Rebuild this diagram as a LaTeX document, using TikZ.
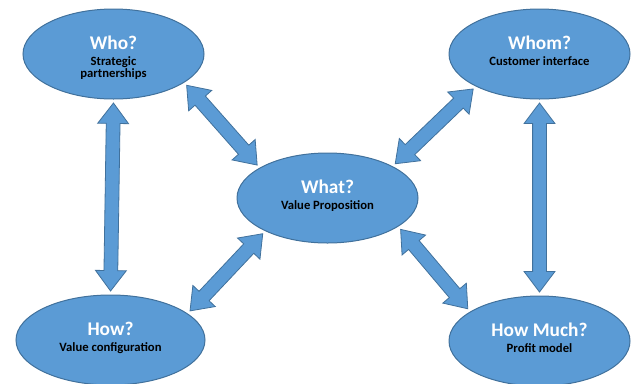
\documentclass[tikz,border=0pt]{standalone}
\usepackage{fontspec}
\setmainfont{Carlito}
\usetikzlibrary{shapes.geometric,shapes.arrows,positioning,calc}

\definecolor{ovalfill}{HTML}{5B9BD5}
\definecolor{ovalline}{HTML}{41719C}

\tikzset{
  oval/.style={draw=ovalline, fill=ovalfill, line width=0.75pt, ellipse,
    minimum width=135.75pt, minimum height=67.5pt, inner sep=0pt},
  ovaltext/.style={anchor=north, inner sep=0pt, align=center,
    font=\bfseries\fontsize{9.5}{9}\selectfont, label distance=-20.5pt},
  twoway/.style={draw=ovalline, fill=ovalfill, line width=0.6pt, double arrow,
    inner xsep=0pt, inner ysep=4.875pt, minimum width=22.5pt,
    double arrow head extend=6.375pt, double arrow tip angle=74},
}
\newcommand{\qtitle}[1]{{\color{white}\fontsize{14.5}{11.25}\selectfont #1}\\[2.75pt]}
\newcommand{\twoway}[2]{\path let \p1=($(#2)-(#1)$), \n1={veclen(\x1,\y1)-5.25pt} in
  (#1) -- node[twoway, sloped, minimum height=\n1] {} (#2);}

\begin{document}
\begin{tikzpicture}[x=0.75pt, y=-0.75pt, on grid]
        \useasboundingbox (0,0) rectangle (632,383);

        \node[oval](WHAT) at (327.5,198)
          {};
        \node[oval, above left=108pt and 160.5pt of WHAT,
          label={[ovaltext]north:\qtitle{Who?}Strategic\\partnerships}](WHO){};
        \node[oval, above right=108pt and 159pt of WHAT,
          label={[ovaltext]north:\qtitle{Whom?}Customer interface}](WHOM){};
        \node[oval, below left=106.5pt and 162.75pt of WHAT, minimum width=141.75pt,
          label={[ovaltext]north:\qtitle{How?}Value configuration}](HOW){};
        \node[oval, below right=107.25pt and 159pt of WHAT,
          label={[ovaltext]north:\qtitle{How Much?}Profit model}](MUCH){};
        \node[ovaltext] at ([yshift=-20.5pt]WHAT.north) {\qtitle{What?}Value Proposition};

        \twoway{WHO.south}{HOW.north}
        \twoway{WHOM.south}{MUCH.north}
        \twoway{WHO.-22.5}{WHAT.156}
        \twoway{WHOM.-153.3}{WHAT.26}
        \twoway{HOW.19.9}{WHAT.-152}
        \twoway{MUCH.157.4}{WHAT.-22.8}
\end{tikzpicture}
\end{document}
